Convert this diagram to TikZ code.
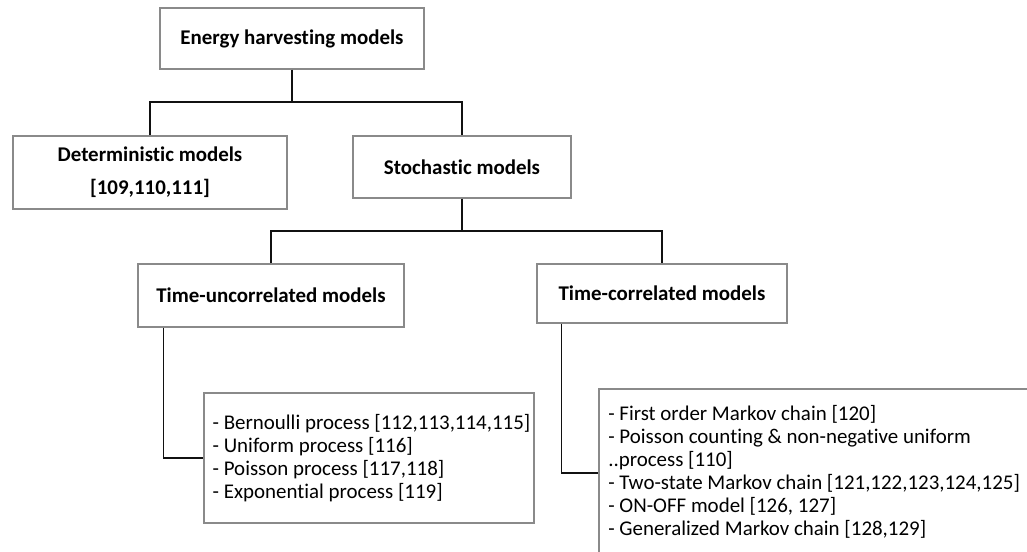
\documentclass[tikz,border=0pt]{standalone}
\usepackage{fontspec}
\setmainfont{Carlito}[RawFeature=-liga]
\usetikzlibrary{calc}
\definecolor{boxline}{HTML}{8A8A8A}
\definecolor{linkline}{HTML}{111111}
\tikzset{
  boxnode/.style={draw=boxline, line width=0.9pt, fill=white, inner sep=0pt},
  headtext/.style={font=\fontsize{15.7pt}{25pt}\selectfont\bfseries, align=center},
  listtext/.style={font=\fontsize{15.7pt}{17.25pt}\selectfont, align=left, anchor=west, inner sep=0pt},
  link/.style={draw=linkline, line width=1.2pt}
}
\begin{document}
\begin{tikzpicture}[x=0.75pt, y=-0.75pt]
\useasboundingbox (0,0) rectangle (1027,551);
\begin{scope}
\clip (0,0) rectangle (1027,551);

% boxes with headings
\node[boxnode, headtext, minimum width={264*0.75pt}, minimum height={61*0.75pt}] (ehm) at (292,38.5) {Energy harvesting models};
\node[boxnode, headtext, minimum width={274*0.75pt}, minimum height={73*0.75pt}] (det) at (150,172.5) {Deterministic models\\{}[109,110,111]};
\node[boxnode, headtext, minimum width={218*0.75pt}, minimum height={62*0.75pt}] (sto) at (462,167) {Stochastic models};
\node[boxnode, headtext, minimum width={266*0.75pt}, minimum height={63*0.75pt}] (tu) at (271,295.5) {Time-uncorrelated models};
\node[boxnode, headtext, minimum width={250*0.75pt}, minimum height={59*0.75pt}] (tc) at (662,293.5) {Time-correlated models};

% list boxes
\node[boxnode, minimum width={330*0.75pt}, minimum height={130*0.75pt}] (ul) at (369,458) {};
\node[listtext] (ultext) at ($(ul.west)+(9,0)$) {- Bernoulli process [112,113,114,115]\\- Uniform process [116]\\- Poisson process [117,118]\\- Exponential process [119]};

\node[boxnode, minimum width={451*0.75pt}, minimum height={168*0.75pt}] (cl) at (824.5,473) {};
\node[listtext] (cltext) at (608,471.5) {- First order Markov chain [120]\\- Poisson counting \& non-negative uniform\\..process [110]\\- Two-state Markov chain [121,122,123,124,125]\\- ON-OFF model [126, 127]\\- Generalized Markov chain [128,129]};

% connectors
\coordinate (j1) at (292,102);
\draw[link] (ehm.south) -- (j1);
\draw[link] (det.north) |- (j1) -| (sto.north);

\coordinate (j2) at (462,231);
\draw[link] (sto.south) -- (j2);
\draw[link] (tu.north) |- (j2) -| (tc.north);

\draw[link] ([xshift=26*0.75pt]tu.south west) |- (ul.west);
\draw[link] ([xshift=25*0.75pt]tc.south west) |- (cl.west);
\end{scope}
\end{tikzpicture}
\end{document}
